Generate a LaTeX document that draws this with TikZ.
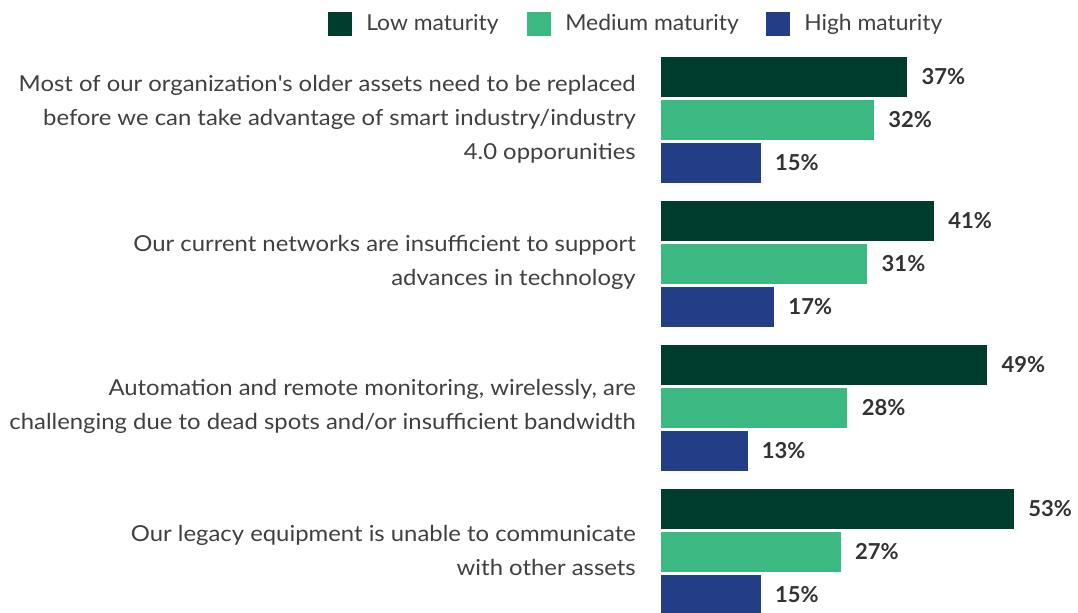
\documentclass[tikz,border=0pt]{standalone}
\usepackage{fontspec}
\setmainfont{Lato}
\newfontfamily\catfont{Lato}[FakeStretch=1.085]
\newfontfamily\legfont{Lato}[FakeStretch=1.04]
\definecolor{lowc}{HTML}{003D2E}
\definecolor{medc}{HTML}{3CB982}
\definecolor{highc}{HTML}{233E87}
\definecolor{txt}{HTML}{404040}
\definecolor{val}{HTML}{333333}
\begin{document}
\begin{tikzpicture}[x=0.75pt,y=-0.75pt,
  lbl/.style={font=\catfont\fontsize{16.5pt}{25.5pt}\selectfont, text=txt, align=right, anchor=east, inner sep=0pt},
  vallbl/.style={font=\fontsize{16.5pt}{20pt}\selectfont\bfseries, text=val, anchor=west, inner sep=0pt},
  legtxt/.style={font=\legfont\fontsize{16.5pt}{20pt}\selectfont, text=txt, anchor=west, inner sep=0pt},
  legsq/.style={minimum size=18pt, inner sep=0pt, anchor=west},
  bar/.style={inner sep=0pt, outer sep=0pt, anchor=north west, minimum height=30pt}]
\useasboundingbox (0,0) rectangle (1078,612);
\clip (0,0) rectangle (1078,612);
% legend
\node[legsq, fill=lowc] (sqlow) at (328,24) {};
\node[legtxt] (tlow) at (366,24) {Low maturity};
\node[legsq, fill=medc] (sqmed) at (527,24) {};
\node[legtxt] (tmed) at (565,24) {Medium maturity};
\node[legsq, fill=highc] (sqhigh) at (766,24) {};
\node[legtxt] (thigh) at (804,24) {High maturity};
% bars
\foreach \g/\a/\b/\c in {0/37/32/15, 1/41/31/17, 2/49/28/13, 3/53/27/15}{
  \pgfmathsetmacro{\top}{57+144*\g}
  \node[bar, fill=lowc, minimum width=6.66*\a*0.75pt] (b\g a) at (661,\top) {};
  \node[vallbl] (v\g a) at ([xshift=10.5pt]b\g a.east) {\a\%};
  \node[bar, fill=medc, minimum width=6.66*\b*0.75pt] (b\g b) at (661,\top+43) {};
  \node[vallbl] (v\g b) at ([xshift=10.5pt]b\g b.east) {\b\%};
  \node[bar, fill=highc, minimum width=6.66*\c*0.75pt] (b\g c) at (661,\top+86) {};
  \node[vallbl] (v\g c) at ([xshift=10.5pt]b\g c.east) {\c\%};
}
% category labels
\node[lbl] (c0) at (636,119) {Most of our organization\textquotesingle s older assets need to be replaced\\before we can take advantage of smart industry/industry\\4.0 opporunities};
\node[lbl] (c1) at (636,262) {Our current networks are insufficient to support\\advances in technology};
\node[lbl] (c2) at (636,406) {Automation and remote monitoring, wirelessly, are\\challenging due to dead spots and/or insufficient bandwidth};
\node[lbl] (c3) at (636,550) {Our legacy equipment is unable to communicate\\with other assets};
\end{tikzpicture}
\end{document}
